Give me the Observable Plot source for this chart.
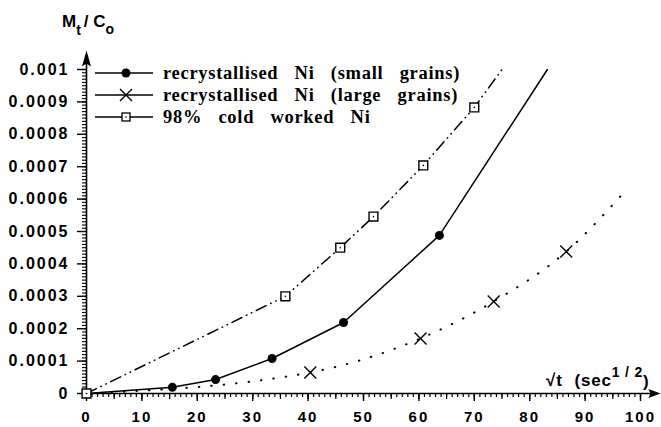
<!DOCTYPE html>
<html><head><meta charset="utf-8">
<script src="https://cdn.jsdelivr.net/npm/d3@7"></script>
<script src="https://cdn.jsdelivr.net/npm/@observablehq/plot@0.6"></script>
<style>
html,body{margin:0;padding:0;background:#fff;}
#chart{position:relative;width:661px;height:427px;}
#chart g[aria-label="x-axis tick label"] text, #chart g[aria-label="y-axis tick label"] text{letter-spacing:2px;}
</style></head><body><div id="chart"></div>
<script>
// ---- data ----
const seriesNames = ["recrystallised Ni (small grains)", "recrystallised Ni (large grains)", "98% cold worked Ni"];
const smallX = [0, 15.5, 23.3, 33.5, 46.4, 63.7];
const smallY = [0, 0.000019, 0.000043, 0.000108, 0.000219, 0.000488];
const smallEnd = [83.2, 0.001];
const largeX = [0, 40.4, 60.3, 73.5, 86.6];
const largeY = [0, 0.000065, 0.00017, 0.000284, 0.000438];
const largeEnd = [97, 0.00062];
const coldX = [0, 35.9, 45.8, 51.8, 60.8, 70.0];
const coldY = [0, 0.0003, 0.00045, 0.000546, 0.000704, 0.000883];
const coldEnd = [75, 0.001];
const xTicks = d3.range(0, 101, 10);
const yTicks = d3.range(0, 11).map(i => i / 10000);
const yTickLabels = ["0","0.0001","0.0002","0.0003","0.0004","0.0005","0.0006","0.0007","0.0008","0.0009","0.001"];
const xAxisMax = 103.6, yAxisMax = 0.001059;

// ---- build ----
const pts = (xs, ys) => xs.map((x, i) => ({x, y: ys[i]}));
const withEnd = (xs, ys, e) => pts(xs, ys).concat([{x: e[0], y: e[1]}]);
const smallLine = withEnd(smallX, smallY, smallEnd);
const largeLine = withEnd(largeX, largeY, largeEnd);
const coldLine = withEnd(coldX, coldY, coldEnd);
const smallPts = pts(smallX, smallY).slice(1);
const largePts = pts(largeX, largeY).slice(1);
const coldPts = pts(coldX, coldY);

const arrowSym = {draw(ctx) { ctx.moveTo(0, 0); ctx.lineTo(-4.5, 16); ctx.lineTo(0, 13); ctx.lineTo(4.5, 16); ctx.closePath(); }};
const arrowSymX = {draw(ctx) { ctx.moveTo(0, 0); ctx.lineTo(-4.5, 12); ctx.lineTo(0, 10); ctx.lineTo(4.5, 12); ctx.closePath(); }};

const sans = "'Liberation Sans', Arial, sans-serif";

const plot = Plot.plot({
  width: 661, height: 427,
  marginLeft: 86, marginRight: 21, marginTop: 69, marginBottom: 34,
  x: {domain: [0, 100]},
  y: {domain: [0, 0.001]},
  style: {fontFamily: sans, fontWeight: "bold", color: "black", background: "white", overflow: "visible"},
  marks: [
    Plot.axisX(d3.range(0, 101, 1), {tickSize: 4, text: null, strokeWidth: 1.2, label: null}),
    Plot.axisX(d3.range(0, 101, 5), {tickSize: 6, text: null, strokeWidth: 1.2, label: null}),
    Plot.axisX(xTicks, {tickSize: 8, tickPadding: 10, strokeWidth: 1.4, fontSize: 15, label: null}),
    Plot.axisY(d3.range(0, 101).map(i => i * 1e-5), {tickSize: 4, text: null, strokeWidth: 1.1, label: null}),
    Plot.axisY(yTicks, {tickSize: 9, tickPadding: 8, strokeWidth: 1.4, fontSize: 16, label: null,
      tickFormat: (d, i) => yTickLabels[i]}),
    Plot.ruleY([0], {x1: 0, x2: xAxisMax - 1.5, strokeWidth: 1.6}),
    Plot.ruleX([0], {y1: 0, y2: yAxisMax - 0.00003, strokeWidth: 1.6}),
    Plot.dot([{x: 0, y: yAxisMax}], {x: "x", y: "y", symbol: arrowSym, fill: "black", stroke: "none", r: 5}),
    Plot.dot([{x: xAxisMax, y: 0}], {x: "x", y: "y", symbol: arrowSymX, rotate: 90, fill: "black", stroke: "none", r: 5}),
    Plot.line(smallLine, {x: "x", y: "y", stroke: "black", strokeWidth: 1.5, clip: true}),
    Plot.line(largeLine, {x: "x", y: "y", stroke: "black", strokeWidth: 2, strokeDasharray: "0.5 12", strokeLinecap: "round", curve: "monotone-x", clip: true}),
    Plot.line(coldLine, {x: "x", y: "y", stroke: "black", strokeWidth: 1.5, strokeDasharray: "11 5 0.5 5 0.5 5", strokeLinecap: "round", clip: true}),
    Plot.dot(smallPts, {x: "x", y: "y", r: 4.5, fill: "black", stroke: "none"}),
    Plot.dot(largePts, {x: "x", y: "y", r: 5.5, symbol: "times", stroke: "black", strokeWidth: 1.4}),
    Plot.dot(coldPts, {x: "x", y: "y", r: 5, symbol: "square", fill: "white", stroke: "black", strokeWidth: 1.4}),
    Plot.dot(coldPts, {x: "x", y: "y", r: 0.8, fill: "black", stroke: "none"})
  ]
});
document.getElementById("chart").appendChild(plot);

// ---- axis titles and legend ----
const svg = d3.select(plot);
const yt = svg.append("text").attr("x", 62).attr("y", 27).attr("text-anchor", "start")
  .attr("font-family", sans).attr("font-weight", "bold").attr("font-size", 17);
yt.append("tspan").text("M");
yt.append("tspan").attr("dy", 8).attr("font-size", 14).text("t");
yt.append("tspan").attr("dy", -8).attr("dx", 3).text("/ C");
yt.append("tspan").attr("dy", 7).attr("font-size", 14).text("o");

const xt = svg.append("text").attr("x", 546).attr("y", 386).attr("text-anchor", "start")
  .attr("font-family", sans).attr("font-weight", "bold").attr("font-size", 17).attr("letter-spacing", "0.8px");
xt.append("tspan").text("\u221At");
xt.append("tspan").attr("dx", 12).text("(sec");
xt.append("tspan").attr("dy", -9).attr("font-size", 14).style("white-space", "pre").text("1 / 2");
xt.append("tspan").attr("dy", 10).text(")");

const legend = svg.append("g");
const rows = [73, 95, 117];
rows.forEach((ry, i) => {
  legend.append("line").attr("x1", 95).attr("x2", 153).attr("y1", ry).attr("y2", ry)
    .attr("stroke", "black").attr("stroke-width", 1.5);
  if (i === 0) legend.append("circle").attr("cx", 126).attr("cy", ry).attr("r", 4.5).attr("fill", "black");
  if (i === 1) legend.append("path").attr("d", `M${120},${ry-6}L${132},${ry+6}M${120},${ry+6}L${132},${ry-6}`)
    .attr("stroke", "black").attr("stroke-width", 1.4);
  if (i === 2) {
    legend.append("rect").attr("x", 122).attr("y", ry - 4).attr("width", 8).attr("height", 8)
      .attr("fill", "white").attr("stroke", "black").attr("stroke-width", 1.3);
    legend.append("circle").attr("cx", 126).attr("cy", ry).attr("r", 0.8).attr("fill", "black");
  }
  legend.append("text").attr("x", 163).attr("y", ry).attr("dy", "0.35em").attr("text-anchor", "start")
    .attr("font-family", "'Liberation Serif', 'Times New Roman', serif").attr("font-weight", "bold")
    .attr("font-size", 18.5).attr("letter-spacing", "0.7px").attr("word-spacing", "11px")
    .text(seriesNames[i]);
});
</script></body></html>
